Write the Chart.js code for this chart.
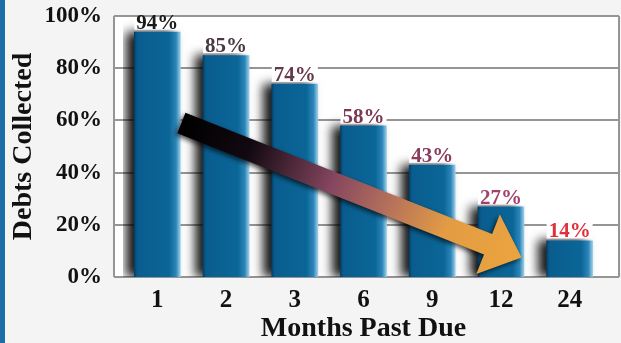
<!DOCTYPE html>
<html>
<head>
<meta charset="utf-8">
<script src="https://cdn.jsdelivr.net/npm/chart.js@4.4.1/dist/chart.umd.min.js"></script>
<style>
    html, body { margin: 0; padding: 0; background: #f4f4f4; }
    #wrap { width: 621px; height: 343px; }
</style>
</head>
<body>
<div id="wrap"><canvas id="barCanvas" width="621" height="343"></canvas></div>
<script>
// === Données ===
const months = ['1', '2', '3', '6', '9', '12', '24'];
const collected = [94, 85, 74, 58, 43, 27, 14];
const yTicks = [0, 20, 40, 60, 80, 100];
const labelColors = ['#1a1a1a', '#4a3944', '#66384b', '#7a3a55', '#8b3c5e', '#a1416c', '#e2303a'];
// flèche : [index de catégorie, valeur %]
const arrowFrom = [0.35, 59];
const arrowTo = [5.3, 7.5];

const SERIF = "'Liberation Serif', 'Times New Roman', serif";
const BAR_PCT = 0.68;

function barGradient(c) {
    const chart = c.chart;
    const x = chart.scales.x;
    if (!x || !chart.chartArea) return '#0b6595';
    const cx = x.getPixelForValue(c.dataIndex);
    const half = (chart.chartArea.width / months.length) * BAR_PCT / 2;
    const g = chart.ctx.createLinearGradient(cx - half, 0, cx + half, 0);
    g.addColorStop(0, '#043d63');
    g.addColorStop(0.07, '#095d8e');
    g.addColorStop(0.75, '#0b6698');
    g.addColorStop(0.9, '#2c85b8');
    g.addColorStop(1, '#a3d4ec');
    return g;
}

function drawArrow(ctx, x0, y0, x1, y1) {
    const ang = Math.atan2(y1 - y0, x1 - x0);
    const len = Math.hypot(x1 - x0, y1 - y0);
    const sh = 11, hl = 36, hw = 32;
    ctx.save();
    ctx.translate(x0, y0);
    ctx.rotate(ang);
    const g = ctx.createLinearGradient(0, 0, len, 0);
    g.addColorStop(0, '#000000');
    g.addColorStop(0.2, '#120910');
    g.addColorStop(0.44, '#84455f');
    g.addColorStop(0.62, '#b8735a');
    g.addColorStop(0.78, '#e39c44');
    g.addColorStop(1, '#eba43d');
    ctx.fillStyle = g;
    ctx.shadowColor = 'rgba(0,0,0,0.7)';
    ctx.shadowBlur = 5;
    ctx.shadowOffsetX = -2;
    ctx.shadowOffsetY = 2;
    ctx.beginPath();
    ctx.moveTo(0, -sh);
    ctx.lineTo(len - hl, -sh);
    ctx.lineTo(len - hl, -hw);
    ctx.lineTo(len, 0);
    ctx.lineTo(len - hl, hw);
    ctx.lineTo(len - hl, sh);
    ctx.lineTo(0, sh);
    ctx.closePath();
    ctx.fill();
    ctx.restore();
}

const decor = {
    id: 'decor',
    beforeDraw(chart) {
        const { ctx, width, height, chartArea: a, scales: { y } } = chart;
        ctx.save();
        ctx.fillStyle = '#f4f4f4';
        ctx.fillRect(0, 0, width, height);
        ctx.fillStyle = '#1b6ea6';
        ctx.fillRect(0, 0, 5, height);
        const left = a.left - 9, right = width - 2;
        ctx.fillStyle = '#ffffff';
        ctx.fillRect(left, a.top, right - left, a.bottom - a.top);
        ctx.strokeStyle = '#959595';
        ctx.lineWidth = 2;
        yTicks.forEach(v => {
            const py = Math.round(y.getPixelForValue(v));
            ctx.beginPath();
            ctx.moveTo(left, py);
            ctx.lineTo(right, py);
            ctx.stroke();
        });
        ctx.beginPath();
        ctx.moveTo(left, a.top);
        ctx.lineTo(left, a.bottom);
        ctx.moveTo(right, a.top);
        ctx.lineTo(right, a.bottom);
        ctx.stroke();
        ctx.restore();
    },
    beforeDatasetsDraw(chart) {
        const ctx = chart.ctx;
        ctx.save();
        ctx.shadowColor = 'rgba(0,0,0,0.9)';
        ctx.shadowBlur = 10;
        ctx.shadowOffsetX = -8;
        ctx.shadowOffsetY = 0;
    },
    afterDatasetsDraw(chart) {
        const { ctx, chartArea: a, scales: { x, y } } = chart;
        ctx.restore();

        drawArrow(ctx,
            x.getPixelForValue(arrowFrom[0]), y.getPixelForValue(arrowFrom[1]),
            x.getPixelForValue(arrowTo[0]), y.getPixelForValue(arrowTo[1]));

        // étiquettes des valeurs
        const meta = chart.getDatasetMeta(0);
        ctx.save();
        ctx.font = 'bold 21px ' + SERIF;
        ctx.textAlign = 'center';
        ctx.textBaseline = 'alphabetic';
        meta.data.forEach((bar, i) => {
            const txt = collected[i] + '%';
            const w = ctx.measureText(txt).width;
            const by = bar.y - 3;
            const top = Math.max(by - 14, a.top + 2);
            ctx.fillStyle = '#ffffff';
            ctx.fillRect(bar.x - w / 2 - 2, top, w + 4, by + 1 - top);
            ctx.fillStyle = labelColors[i];
            ctx.fillText(txt, bar.x, by);
        });
        ctx.restore();
    }
};

const ctx = document.getElementById('barCanvas').getContext('2d');
const barChart = new Chart(ctx, {
    type: 'bar',
    data: {
        labels: months,
        datasets: [{
            label: 'Debts Collected',
            data: collected,
            backgroundColor: barGradient,
            borderWidth: 0,
            barPercentage: BAR_PCT,
            categoryPercentage: 1
        }]
    },
    options: {
        responsive: false,
        animation: false,
        devicePixelRatio: 1,
        layout: { padding: { top: 16, right: 17, bottom: 0, left: 0 } },
        plugins: {
            legend: { display: false },
            tooltip: { enabled: false }
        },
        scales: {
            x: {
                grid: { display: false, drawTicks: false },
                border: { display: false },
                ticks: {
                    padding: 9,
                    color: '#111',
                    font: { family: SERIF, size: 25, weight: 'bold' }
                },
                title: {
                    display: true,
                    text: 'Months Past Due',
                    color: '#111',
                    padding: 0,
                    font: { family: SERIF, size: 28, weight: 'bold', lineHeight: 1 }
                },
                afterFit: s => { s.height = 66; s.paddingLeft = 0; s.paddingRight = 0; }
            },
            y: {
                min: 0,
                max: 100,
                grid: { display: false, drawTicks: false },
                border: { display: false },
                afterBuildTicks: s => { s.ticks = yTicks.map(v => ({ value: v })); },
                ticks: {
                    padding: 21,
                    color: '#111',
                    font: { family: SERIF, size: 23, weight: 'bold' },
                    callback: v => v + '%'
                },
                title: {
                    display: true,
                    text: 'Debts Collected',
                    color: '#111',
                    padding: { top: 10, bottom: 0 },
                    font: { family: SERIF, size: 28, weight: 'bold', lineHeight: 1 }
                },
                afterFit: s => { s.width = 123; s.paddingTop = 0; s.paddingBottom = 0; }
            }
        }
    },
    plugins: [decor]
});
</script>
</body>
</html>
